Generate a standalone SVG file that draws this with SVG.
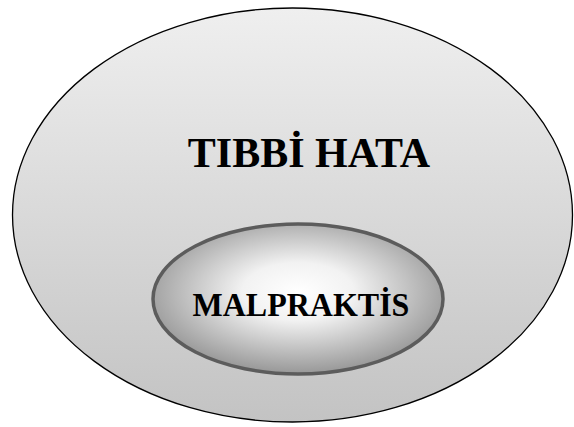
<svg xmlns="http://www.w3.org/2000/svg" width="574" height="427" viewBox="0 0 574 427">
<defs>
<linearGradient id="outerFill" x1="0" y1="0" x2="0" y2="1">
<stop offset="0" stop-color="#efefef"/>
<stop offset="1" stop-color="#c3c3c3"/>
</linearGradient>
<radialGradient id="innerFill" cx="0.5" cy="0.45" r="0.55">
<stop offset="0" stop-color="#ffffff"/>
<stop offset="0.35" stop-color="#f2f2f2"/>
<stop offset="1" stop-color="#979797"/>
</radialGradient>
</defs>
<style>
.lbl{font-family:"Liberation Serif","Times New Roman",serif;font-weight:bold;fill:#000;text-anchor:middle}
</style>
<rect width="574" height="427" fill="#ffffff"/>
<g id="tibbi-hata">
<ellipse cx="292.5" cy="215" rx="280" ry="207" fill="url(#outerFill)" stroke="#000" stroke-width="1.3"/>
<text class="lbl" x="309" y="167" font-size="42">TIBBİ HATA</text>
</g>
<g id="malpraktis">
<ellipse cx="298" cy="299" rx="145" ry="75" fill="url(#innerFill)" stroke="#5c5c5c" stroke-width="3.5"/>
<text class="lbl" x="301" y="316" font-size="32" transform="translate(0,316) scale(1,1.08) translate(0,-316)">MALPRAKTİS</text>
</g>
<g id="connectors"/>
</svg>
